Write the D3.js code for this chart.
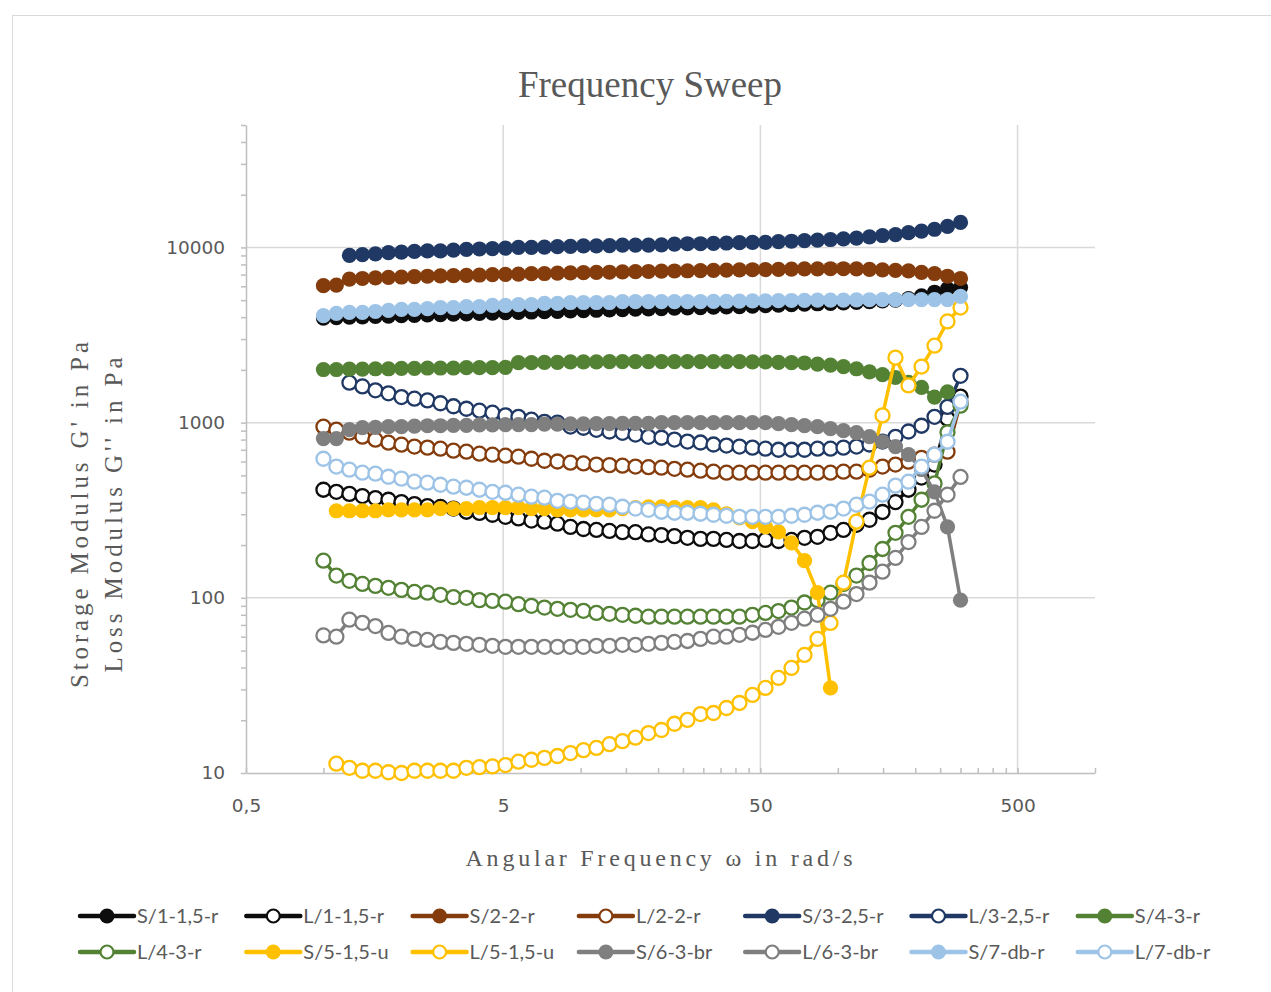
<!DOCTYPE html>
<html>
<head>
<meta charset="utf-8">
<script src="https://cdn.jsdelivr.net/npm/d3@7"></script>
<style>
body { margin: 0; background: #fff; }
svg { display: block; }
</style>
</head>
<body>
<div id="chart"></div>
<script>
// angular frequency (rad/s)
var freq = [1, 1.123, 1.262, 1.418, 1.593, 1.790, 2.011, 2.259, 2.538, 2.851,
    3.203, 3.598, 4.043, 4.542, 5.102, 5.732, 6.440, 7.234, 8.127, 9.131,
    10.26, 11.52, 12.95, 14.55, 16.34, 18.36, 20.63, 23.17, 26.03, 29.25,
    32.86, 36.91, 41.47, 46.59, 52.34, 58.80, 66.06, 74.21, 83.38, 93.67,
    105.2, 118.2, 132.8, 149.2, 167.6, 188.3, 211.6, 237.7, 267.0, 300];

var S1 = [3950, 3980, 4000, 4020, 4040, 4060, 4080, 4100, 4120, 4140,
    4160, 4180, 4200, 4220, 4240, 4260, 4280, 4300, 4320, 4340,
    4360, 4380, 4400, 4420, 4440, 4460, 4480, 4500, 4520, 4540,
    4560, 4580, 4600, 4620, 4650, 4680, 4710, 4740, 4770, 4800,
    4830, 4860, 4900, 4950, 5000, 5100, 5300, 5550, 5800, 5900];
var L1 = [414, 403, 392, 381, 371, 363, 352, 343, 334, 330,
    323, 310, 305, 298, 290, 284, 276, 272, 265, 254,
    247, 244, 241, 237, 237, 230, 228, 225, 220, 217,
    217, 214, 211, 211, 214, 211, 214, 220, 223, 235,
    244, 261, 279, 309, 352, 414, 486, 576, 1054, 1408];
var S2 = [6050, 6100, 6600, 6650, 6700, 6750, 6780, 6820, 6850, 6880,
    6900, 6930, 6960, 7000, 7020, 7050, 7080, 7100, 7130, 7150,
    7180, 7200, 7220, 7250, 7270, 7290, 7320, 7340, 7360, 7380,
    7400, 7420, 7440, 7460, 7480, 7500, 7520, 7540, 7550, 7560,
    7560, 7540, 7500, 7450, 7400, 7350, 7200, 7100, 6850, 6650];
var L2 = [948, 912, 877, 832, 799, 768, 748, 730, 720, 710,
    692, 683, 665, 656, 648, 639, 622, 606, 600, 591,
    585, 576, 572, 568, 561, 557, 553, 545, 539, 532,
    525, 518, 518, 518, 518, 518, 518, 518, 518, 518,
    525, 525, 539, 561, 576, 599, 630, 656, 683, 1300];
var S3 = [null, null, 9000, 9100, 9200, 9350, 9400, 9500, 9550, 9550,
    9650, 9750, 9800, 9850, 9900, 10000, 10000, 10050, 10100, 10150,
    10200, 10200, 10250, 10300, 10300, 10300, 10350, 10450, 10500, 10500,
    10550, 10600, 10650, 10700, 10700, 10800, 10850, 10950, 11000, 11100,
    11200, 11300, 11500, 11700, 11850, 12150, 12400, 12700, 13200, 13900];
var L3 = [null, null, 1690, 1610, 1530, 1470, 1400, 1370, 1340, 1290,
    1240, 1200, 1170, 1140, 1100, 1080, 1040, 1010, 1000, 950,
    935, 910, 890, 875, 855, 830, 820, 800, 780, 770,
    750, 740, 730, 720, 710, 700, 700, 700, 710, 710,
    720, 730, 750, 780, 830, 890, 960, 1080, 1230, 1850];
var S4 = [2010, 2010, 2020, 2020, 2030, 2030, 2040, 2040, 2050, 2050,
    2050, 2060, 2060, 2060, 2070, 2200, 2200, 2210, 2210, 2220,
    2220, 2220, 2230, 2230, 2230, 2230, 2230, 2230, 2230, 2230,
    2230, 2230, 2230, 2220, 2220, 2210, 2200, 2190, 2160, 2130,
    2090, 2030, 1950, 1880, 1810, 1700, 1590, 1400, 1500, null];
var L4 = [163, 134, 125, 120, 117, 114, 111, 108, 107, 104,
    101, 100, 97, 96, 95, 92, 90, 88, 86.5, 85.4,
    84.3, 82, 81, 80, 79, 78, 78, 78, 78, 78,
    78, 78, 78, 80, 82, 84, 88, 94, 97, 107,
    120, 134, 158, 190, 235, 290, 363, 450, 880, 1250];
var S5 = [null, 314, 314, 314, 314, 318, 318, 318, 318, 323,
    323, 323, 327, 327, 327, 327, 323, 323, 318, 318,
    318, 318, 318, 323, 327, 331, 331, 327, 327, 327,
    318, 302, 286, 272, 254, 238, 206, 163, 107, 30.6,
    null, null, null, null, null, null, null, null, null, null];
var L5 = [null, 11.3, 10.7, 10.3, 10.3, 10.1, 10.0, 10.3, 10.3, 10.3,
    10.3, 10.7, 10.8, 10.9, 11.1, 11.6, 11.9, 12.2, 12.5, 13.0,
    13.5, 13.9, 14.6, 15.2, 15.9, 16.9, 17.6, 19.1, 20.1, 21.7,
    22.0, 23.5, 25.1, 27.9, 30.6, 34.9, 39.8, 47.2, 58.3, 71.9,
    122, 272, 553, 1100, 2350, 1630, 2090, 2750, 3780, 4540];
var S6 = [811, 811, 912, 936, 940, 948, 948, 955, 960, 960,
    965, 965, 970, 970, 973, 975, 975, 980, 980, 985,
    985, 987, 987, 990, 990, 990, 1000, 1000, 1000, 1000,
    1000, 1000, 1000, 1000, 1000, 987, 973, 961, 948, 924,
    900, 877, 832, 778, 730, 656, 540, 403, 254, 97];
var L6 = [61, 60, 75, 72, 69, 63, 60, 58.3, 57.5, 56,
    55.3, 54.6, 53.9, 53.2, 52.5, 52.5, 52.5, 52.5, 52.5, 52.5,
    52.5, 53.2, 53.2, 53.9, 53.9, 54.6, 55.3, 56, 56.7, 58.3,
    60, 60, 61.5, 63.2, 65.6, 68.3, 72, 76, 80, 86.5,
    95, 105, 122, 141, 169, 208, 254, 314, 388, 490];
var S7 = [4080, 4200, 4260, 4260, 4310, 4370, 4430, 4430, 4480, 4540,
    4540, 4600, 4600, 4670, 4670, 4720, 4720, 4790, 4790, 4850,
    4850, 4850, 4850, 4910, 4910, 4910, 4910, 4910, 4910, 4910,
    4920, 4930, 4940, 4950, 4960, 4970, 4980, 4990, 5000, 5000,
    5010, 5020, 5030, 5040, 5040, 5040, 5040, 5040, 5040, 5250];
var L7 = [622, 561, 539, 518, 511, 491, 479, 460, 454, 442,
    431, 425, 414, 403, 398, 388, 378, 373, 358, 354,
    349, 344, 340, 331, 323, 318, 310, 306, 306, 302,
    298, 294, 290, 290, 290, 290, 294, 298, 306, 310,
    323, 340, 354, 388, 437, 460, 561, 656, 778, 1318];

var seriesNames = ["S/1-1,5-r", "L/1-1,5-r", "S/2-2-r", "L/2-2-r", "S/3-2,5-r", "L/3-2,5-r", "S/4-3-r",
    "L/4-3-r", "S/5-1,5-u", "L/5-1,5-u", "S/6-3-br", "L/6-3-br", "S/7-db-r", "L/7-db-r"];
var seriesValues = [S1, L1, S2, L2, S3, L3, S4, L4, S5, L5, S6, L6, S7, L7];
var seriesColors = ["#0d0d0d", "#0d0d0d", "#843c0c", "#843c0c", "#1f3864", "#1f3864", "#548235",
    "#548235", "#ffc000", "#ffc000", "#7f7f7f", "#7f7f7f", "#9dc3e6", "#9dc3e6"];
var seriesFilled = [true, false, true, false, true, false, true, false, true, false, true, false, true, false];

var xTickLabels = ["0,5", "5", "50", "500"];
var xMajor = [0.5, 5, 50, 500];
var yMajor = [10, 100, 1000, 10000];

var width = 1271, height = 992;
var textColor = "#595959";

var svg = d3.select("#chart").append("svg")
    .attr("width", width)
    .attr("height", height);

// chart border
svg.append("rect")
    .attr("x", 12.5).attr("y", 15.5)
    .attr("width", 1280).attr("height", 1000)
    .attr("fill", "none")
    .attr("stroke", "#d9d9d9");

var x = d3.scaleLog().domain([0.5, 1000]).range([246, 1095]);
var y = d3.scaleLog().domain([10, 50000]).range([773, 125]);

// minor ticks: k * base for each decade
var xMinor = [];
xMajor.forEach(function(b) {
    for (var k = 2; k <= 9; k++) { if (b * k <= 1000) xMinor.push(b * k); }
});
var yMinor = [];
yMajor.forEach(function(b) {
    for (var k = 2; k <= 9; k++) { if (b * k <= 50000) yMinor.push(b * k); }
});

// gridlines
svg.append("g").selectAll("line")
    .data(xMajor.slice(1))
    .join("line")
    .attr("x1", d => x(d)).attr("x2", d => x(d))
    .attr("y1", 125).attr("y2", 773)
    .attr("stroke", "#d9d9d9").attr("stroke-width", 1.5);
svg.append("g").selectAll("line")
    .data(yMajor.slice(1))
    .join("line")
    .attr("x1", 246).attr("x2", 1095)
    .attr("y1", d => y(d)).attr("y2", d => y(d))
    .attr("stroke", "#d9d9d9").attr("stroke-width", 1.5);

// y axis
var yAxis = svg.append("g")
    .attr("transform", "translate(246,0)")
    .call(d3.axisLeft(y)
        .tickValues(yMajor.concat(yMinor))
        .tickSize(5)
        .tickSizeOuter(0)
        .tickPadding(16)
        .tickFormat(d => yMajor.indexOf(d) >= 0 ? String(d) : ""));
yAxis.selectAll("path, line").attr("stroke", "#bfbfbf").attr("stroke-width", 1.5);
yAxis.selectAll("text")
    .attr("fill", textColor)
    .style("font-family", "DejaVu Sans")
    .style("font-size", "18.5px");

// x axis, ticks point up into the plot
var xAxis = svg.append("g")
    .attr("transform", "translate(0,773)")
    .call(d3.axisBottom(x)
        .tickValues(xMajor.concat(xMinor))
        .tickSize(-5)
        .tickSizeOuter(0)
        .tickPadding(26)
        .tickFormat(d => { var i = xMajor.indexOf(d); return i >= 0 ? xTickLabels[i] : ""; }));
xAxis.selectAll("path, line").attr("stroke", "#bfbfbf").attr("stroke-width", 1.5);
xAxis.selectAll("text")
    .attr("fill", textColor)
    .style("font-family", "DejaVu Sans")
    .style("font-size", "18.5px");

// series
var line = d3.line()
    .defined(d => d.v != null)
    .x(d => x(d.f))
    .y(d => y(d.v));

seriesValues.forEach(function(vals, s) {
    var pts = vals.map((v, i) => ({ f: freq[i], v: v }));
    var g = svg.append("g");
    g.append("path")
        .datum(pts)
        .attr("d", line)
        .attr("fill", "none")
        .attr("stroke", seriesColors[s])
        .attr("stroke-width", 3.5)
        .attr("stroke-linejoin", "round");
    g.selectAll("circle")
        .data(pts.filter(d => d.v != null))
        .join("circle")
        .attr("cx", d => x(d.f))
        .attr("cy", d => y(d.v))
        .attr("r", seriesFilled[s] ? 7.6 : 7)
        .attr("fill", seriesFilled[s] ? seriesColors[s] : "#fff")
        .attr("stroke", seriesColors[s])
        .attr("stroke-width", seriesFilled[s] ? 0 : 2.3);
});

// title
svg.append("text")
    .attr("x", 650).attr("y", 97)
    .attr("text-anchor", "middle")
    .attr("fill", textColor)
    .style("font-family", "Liberation Serif")
    .style("font-size", "37px")
    .text("Frequency Sweep");

// axis titles
var yTitle = svg.append("g").attr("transform", "translate(0,515) rotate(-90)");
yTitle.append("text")
    .attr("x", 0).attr("y", 88)
    .attr("text-anchor", "middle")
    .attr("textLength", 346).attr("lengthAdjust", "spacing")
    .attr("fill", textColor)
    .style("font-family", "Liberation Serif")
    .style("font-size", "25px")
    .text("Storage Modulus G' in Pa");
yTitle.append("text")
    .attr("x", 0).attr("y", 122)
    .attr("text-anchor", "middle")
    .attr("textLength", 315).attr("lengthAdjust", "spacing")
    .attr("fill", textColor)
    .style("font-family", "Liberation Serif")
    .style("font-size", "25px")
    .text("Loss Modulus G'' in Pa");

svg.append("text")
    .attr("x", 659).attr("y", 866)
    .attr("text-anchor", "middle")
    .attr("textLength", 387).attr("lengthAdjust", "spacing")
    .attr("fill", textColor)
    .style("font-family", "Liberation Serif")
    .style("font-size", "24px")
    .text("Angular Frequency \u03c9 in rad/s");

// legend, 7 per row
var legend = svg.append("g");
seriesNames.forEach(function(name, s) {
    var lx = 80 + (s % 7) * 166.3;
    var ly = s < 7 ? 916 : 952;
    var item = legend.append("g").attr("transform", "translate(" + lx + "," + ly + ")");
    item.append("line")
        .attr("x1", 0).attr("x2", 54)
        .attr("stroke", seriesColors[s])
        .attr("stroke-width", 4.5)
        .attr("stroke-linecap", "round");
    item.append("circle")
        .attr("cx", 27).attr("r", seriesFilled[s] ? 7.5 : 6.5)
        .attr("fill", seriesFilled[s] ? seriesColors[s] : "#fff")
        .attr("stroke", seriesColors[s])
        .attr("stroke-width", seriesFilled[s] ? 0 : 2.2);
    item.append("text")
        .attr("x", 57).attr("y", 7)
        .attr("fill", textColor)
        .style("font-family", "Lato")
        .style("font-size", "20px")
        .text(name);
});
</script>
</body>
</html>
